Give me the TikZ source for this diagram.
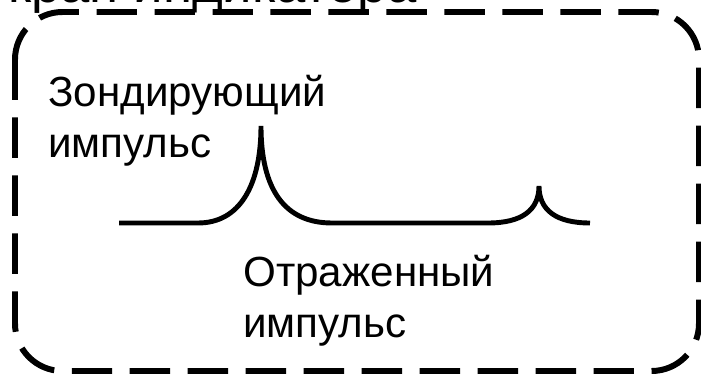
\documentclass[tikz,border=0pt]{standalone}
\usepackage{fontspec}
\setmainfont{Liberation Sans}
\usetikzlibrary{positioning}

\begin{document}
\begin{tikzpicture}[x=0.02cm, y=-0.02cm,
    label/.style={inner sep=0pt, anchor=base west, align=left,
                  font=\fontsize{24}{28.5}\selectfont},
    frame/.style={draw, line width=3.4pt, rounded corners=0.95cm,
                  dash pattern=on 23pt off 10pt},
    pulse/.style={draw, line width=2.8pt}]

  %% Canvas
  \clip (0,0) rectangle (701,379);

  %% Screen title (cut off at the top)
  \node[font=\fontsize{30}{30}\selectfont, anchor=base west, inner sep=0pt]
    (title) at (-30,2) {Экран индикатора};

  %% Screen frame
  \draw[frame] (15,12) rectangle (699,371);

  %% Labels (base = last line)
  \node[label] (probe) at (48,157) {Зондирующий\\импульс};
  \node[label] (echo) at (243,337) {Отраженный\\импульс};

  %% Trace
  \coordinate (start) at (119,223);
  \coordinate (rise1) at (198,223);
  \coordinate (peak1) at (261,126);
  \coordinate (fall1) at (332,223);
  \coordinate (rise2) at (488,223);
  \coordinate (peak2) at (539,186);
  \coordinate (stop)  at (590,223);

  \draw[pulse] (start) -- (rise1)
    .. controls (240,223) and (261,185) .. (peak1)
    .. controls (261,190) and (285,223) .. (fall1)
    -- (rise2)
    .. controls (522,223) and (539,210) .. (peak2)
    .. controls (539,210) and (556,223) .. (stop);
\end{tikzpicture}
\end{document}
